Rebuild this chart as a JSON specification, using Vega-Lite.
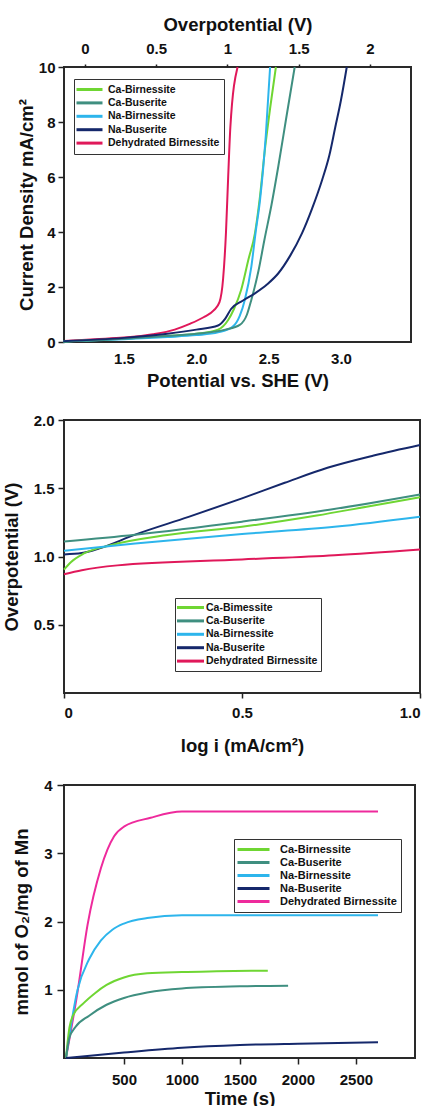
{
  "$schema": "https://vega.github.io/schema/vega-lite/v6.json",
  "padding": {"top": 14, "left": 1, "right": 0, "bottom": 0},
  "spacing": 21,
  "config": {
    "font": "Liberation Sans",
    "view": {"stroke": "#2a2a2a", "strokeWidth": 2},
    "axis": {
      "grid": false, "domain": false,
      "labelFont": "Liberation Sans", "labelFontWeight": "bold", "labelFontSize": 15, "labelColor": "#111",
      "titleFont": "Liberation Sans", "titleFontWeight": "bold", "titleFontSize": 18.5, "titleColor": "#111",
      "tickColor": "#222", "tickWidth": 1.5
    },
    "legend": {
      "title": null, "symbolStrokeWidth": 3, "symbolSize": 100,
      "labelFont": "Liberation Sans", "labelFontWeight": "bold", "labelColor": "#111",
      "strokeColor": "#333", "fillColor": "white"
    }
  },
  "resolve": {"scale": {"color": "independent"}, "legend": {"color": "independent"}},
  "datasets": {
    "lsv": [
      {"s": "Dehydrated Birnessite", "E": 1.08, "j": 0.03},
      {"s": "Dehydrated Birnessite", "E": 1.3, "j": 0.1},
      {"s": "Dehydrated Birnessite", "E": 1.5, "j": 0.16},
      {"s": "Dehydrated Birnessite", "E": 1.7, "j": 0.28},
      {"s": "Dehydrated Birnessite", "E": 1.85, "j": 0.45},
      {"s": "Dehydrated Birnessite", "E": 1.95, "j": 0.65},
      {"s": "Dehydrated Birnessite", "E": 2.05, "j": 0.9},
      {"s": "Dehydrated Birnessite", "E": 2.12, "j": 1.15},
      {"s": "Dehydrated Birnessite", "E": 2.16, "j": 1.45},
      {"s": "Dehydrated Birnessite", "E": 2.185, "j": 2.3},
      {"s": "Dehydrated Birnessite", "E": 2.205, "j": 4.0},
      {"s": "Dehydrated Birnessite", "E": 2.22, "j": 6.0},
      {"s": "Dehydrated Birnessite", "E": 2.235, "j": 7.8},
      {"s": "Dehydrated Birnessite", "E": 2.285, "j": 10},
      {"s": "Ca-Birnessite", "E": 1.08, "j": 0.02},
      {"s": "Ca-Birnessite", "E": 1.5, "j": 0.12},
      {"s": "Ca-Birnessite", "E": 1.8, "j": 0.22},
      {"s": "Ca-Birnessite", "E": 2.0, "j": 0.3},
      {"s": "Ca-Birnessite", "E": 2.15, "j": 0.45},
      {"s": "Ca-Birnessite", "E": 2.22, "j": 0.8},
      {"s": "Ca-Birnessite", "E": 2.26, "j": 1.2},
      {"s": "Ca-Birnessite", "E": 2.31, "j": 1.9},
      {"s": "Ca-Birnessite", "E": 2.36, "j": 3.0},
      {"s": "Ca-Birnessite", "E": 2.405, "j": 3.95},
      {"s": "Ca-Birnessite", "E": 2.44, "j": 5.3},
      {"s": "Ca-Birnessite", "E": 2.474, "j": 7.0},
      {"s": "Ca-Birnessite", "E": 2.51, "j": 8.5},
      {"s": "Ca-Birnessite", "E": 2.55, "j": 10},
      {"s": "Na-Birnessite", "E": 1.08, "j": 0.02},
      {"s": "Na-Birnessite", "E": 1.5, "j": 0.1},
      {"s": "Na-Birnessite", "E": 1.8, "j": 0.18},
      {"s": "Na-Birnessite", "E": 2.0, "j": 0.25},
      {"s": "Na-Birnessite", "E": 2.15, "j": 0.35},
      {"s": "Na-Birnessite", "E": 2.25, "j": 0.55},
      {"s": "Na-Birnessite", "E": 2.3, "j": 0.95},
      {"s": "Na-Birnessite", "E": 2.335, "j": 1.53},
      {"s": "Na-Birnessite", "E": 2.38, "j": 2.73},
      {"s": "Na-Birnessite", "E": 2.41, "j": 4.0},
      {"s": "Na-Birnessite", "E": 2.44, "j": 5.15},
      {"s": "Na-Birnessite", "E": 2.48, "j": 7.5},
      {"s": "Na-Birnessite", "E": 2.51, "j": 10},
      {"s": "Ca-Buserite", "E": 1.08, "j": 0.02},
      {"s": "Ca-Buserite", "E": 1.5, "j": 0.12},
      {"s": "Ca-Buserite", "E": 1.8, "j": 0.22},
      {"s": "Ca-Buserite", "E": 2.0, "j": 0.3},
      {"s": "Ca-Buserite", "E": 2.2, "j": 0.45},
      {"s": "Ca-Buserite", "E": 2.3, "j": 0.62},
      {"s": "Ca-Buserite", "E": 2.35, "j": 1.0},
      {"s": "Ca-Buserite", "E": 2.38, "j": 1.53},
      {"s": "Ca-Buserite", "E": 2.43, "j": 2.6},
      {"s": "Ca-Buserite", "E": 2.47, "j": 3.7},
      {"s": "Ca-Buserite", "E": 2.52, "j": 5.0},
      {"s": "Ca-Buserite", "E": 2.567, "j": 6.4},
      {"s": "Ca-Buserite", "E": 2.62, "j": 8.1},
      {"s": "Ca-Buserite", "E": 2.68, "j": 10},
      {"s": "Na-Buserite", "E": 1.08, "j": 0.03},
      {"s": "Na-Buserite", "E": 1.5, "j": 0.15},
      {"s": "Na-Buserite", "E": 1.8, "j": 0.3},
      {"s": "Na-Buserite", "E": 2.0, "j": 0.45},
      {"s": "Na-Buserite", "E": 2.15, "j": 0.6},
      {"s": "Na-Buserite", "E": 2.2, "j": 0.85},
      {"s": "Na-Buserite", "E": 2.24, "j": 1.2},
      {"s": "Na-Buserite", "E": 2.32, "j": 1.5},
      {"s": "Na-Buserite", "E": 2.405, "j": 1.77},
      {"s": "Na-Buserite", "E": 2.49, "j": 2.1},
      {"s": "Na-Buserite", "E": 2.567, "j": 2.5},
      {"s": "Na-Buserite", "E": 2.65, "j": 3.15},
      {"s": "Na-Buserite", "E": 2.73, "j": 3.95},
      {"s": "Na-Buserite", "E": 2.8, "j": 4.85},
      {"s": "Na-Buserite", "E": 2.87, "j": 5.9},
      {"s": "Na-Buserite", "E": 2.92, "j": 6.8},
      {"s": "Na-Buserite", "E": 2.96, "j": 7.8},
      {"s": "Na-Buserite", "E": 3.0, "j": 8.8},
      {"s": "Na-Buserite", "E": 3.04, "j": 10}
    ],
    "eta": [{"eta": 0}, {"eta": 2}],
    "tafel": [
      {"s": "Na-Buserite", "x": 0, "y": 1.015},
      {"s": "Na-Buserite", "x": 0.05, "y": 1.025},
      {"s": "Na-Buserite", "x": 0.1, "y": 1.06},
      {"s": "Na-Buserite", "x": 0.2, "y": 1.16},
      {"s": "Na-Buserite", "x": 0.35, "y": 1.29},
      {"s": "Na-Buserite", "x": 0.5, "y": 1.426},
      {"s": "Na-Buserite", "x": 0.62, "y": 1.54},
      {"s": "Na-Buserite", "x": 0.74, "y": 1.65},
      {"s": "Na-Buserite", "x": 0.87, "y": 1.74},
      {"s": "Na-Buserite", "x": 1.0, "y": 1.817},
      {"s": "Ca-Buserite", "x": 0, "y": 1.11},
      {"s": "Ca-Buserite", "x": 0.2, "y": 1.16},
      {"s": "Ca-Buserite", "x": 0.5, "y": 1.255},
      {"s": "Ca-Buserite", "x": 0.75, "y": 1.345},
      {"s": "Ca-Buserite", "x": 1.0, "y": 1.455},
      {"s": "Ca-Bimessite", "x": 0, "y": 0.904},
      {"s": "Ca-Bimessite", "x": 0.02, "y": 0.96},
      {"s": "Ca-Bimessite", "x": 0.056, "y": 1.022},
      {"s": "Ca-Bimessite", "x": 0.131, "y": 1.083},
      {"s": "Ca-Bimessite", "x": 0.29, "y": 1.157},
      {"s": "Ca-Bimessite", "x": 0.5, "y": 1.218},
      {"s": "Ca-Bimessite", "x": 0.71, "y": 1.3},
      {"s": "Ca-Bimessite", "x": 0.85, "y": 1.365},
      {"s": "Ca-Bimessite", "x": 1.0, "y": 1.434},
      {"s": "Na-Birnessite", "x": 0, "y": 1.042},
      {"s": "Na-Birnessite", "x": 0.2, "y": 1.096},
      {"s": "Na-Birnessite", "x": 0.5, "y": 1.165},
      {"s": "Na-Birnessite", "x": 0.76, "y": 1.218},
      {"s": "Na-Birnessite", "x": 1.0, "y": 1.292},
      {"s": "Dehydrated Birnessite", "x": 0, "y": 0.87},
      {"s": "Dehydrated Birnessite", "x": 0.05, "y": 0.9},
      {"s": "Dehydrated Birnessite", "x": 0.15, "y": 0.935},
      {"s": "Dehydrated Birnessite", "x": 0.5, "y": 0.978},
      {"s": "Dehydrated Birnessite", "x": 0.76, "y": 1.01},
      {"s": "Dehydrated Birnessite", "x": 1.0, "y": 1.052}
    ],
    "o2": [
      {"s": "Dehydrated Birnessite", "t": 0, "v": 0},
      {"s": "Dehydrated Birnessite", "t": 100, "v": 0.97},
      {"s": "Dehydrated Birnessite", "t": 186, "v": 1.95},
      {"s": "Dehydrated Birnessite", "t": 301, "v": 2.78},
      {"s": "Dehydrated Birnessite", "t": 415, "v": 3.25},
      {"s": "Dehydrated Birnessite", "t": 500, "v": 3.39},
      {"s": "Dehydrated Birnessite", "t": 730, "v": 3.52},
      {"s": "Dehydrated Birnessite", "t": 1000, "v": 3.61},
      {"s": "Dehydrated Birnessite", "t": 2690, "v": 3.61},
      {"s": "Na-Birnessite", "t": 0, "v": 0},
      {"s": "Na-Birnessite", "t": 100, "v": 1.0},
      {"s": "Na-Birnessite", "t": 200, "v": 1.45},
      {"s": "Na-Birnessite", "t": 300, "v": 1.72},
      {"s": "Na-Birnessite", "t": 400, "v": 1.88},
      {"s": "Na-Birnessite", "t": 500, "v": 1.97},
      {"s": "Na-Birnessite", "t": 700, "v": 2.05},
      {"s": "Na-Birnessite", "t": 1000, "v": 2.09},
      {"s": "Na-Birnessite", "t": 2690, "v": 2.09},
      {"s": "Ca-Birnessite", "t": 0, "v": 0},
      {"s": "Ca-Birnessite", "t": 30, "v": 0.45},
      {"s": "Ca-Birnessite", "t": 60, "v": 0.62},
      {"s": "Ca-Birnessite", "t": 150, "v": 0.8},
      {"s": "Ca-Birnessite", "t": 250, "v": 0.95},
      {"s": "Ca-Birnessite", "t": 350, "v": 1.07},
      {"s": "Ca-Birnessite", "t": 500, "v": 1.18},
      {"s": "Ca-Birnessite", "t": 700, "v": 1.24},
      {"s": "Ca-Birnessite", "t": 1000, "v": 1.26},
      {"s": "Ca-Birnessite", "t": 1300, "v": 1.27},
      {"s": "Ca-Birnessite", "t": 1740, "v": 1.28},
      {"s": "Ca-Buserite", "t": 0, "v": 0},
      {"s": "Ca-Buserite", "t": 30, "v": 0.3},
      {"s": "Ca-Buserite", "t": 80, "v": 0.45},
      {"s": "Ca-Buserite", "t": 200, "v": 0.62},
      {"s": "Ca-Buserite", "t": 350, "v": 0.78},
      {"s": "Ca-Buserite", "t": 500, "v": 0.88},
      {"s": "Ca-Buserite", "t": 700, "v": 0.96},
      {"s": "Ca-Buserite", "t": 1000, "v": 1.02},
      {"s": "Ca-Buserite", "t": 1500, "v": 1.05},
      {"s": "Ca-Buserite", "t": 1915, "v": 1.06},
      {"s": "Na-Buserite", "t": 0, "v": 0},
      {"s": "Na-Buserite", "t": 500, "v": 0.08},
      {"s": "Na-Buserite", "t": 1000, "v": 0.15},
      {"s": "Na-Buserite", "t": 1500, "v": 0.19},
      {"s": "Na-Buserite", "t": 2000, "v": 0.21},
      {"s": "Na-Buserite", "t": 2690, "v": 0.23}
    ]
  },
  "vconcat": [
    {
      "width": 347,
      "height": 275,
      "layer": [
        {
          "data": {"name": "lsv"},
          "mark": {"type": "line", "strokeWidth": 2, "interpolate": "monotone"},
          "encoding": {
            "x": {"field": "E", "type": "quantitative",
                  "scale": {"domain": [1.085, 3.484], "nice": false, "zero": false},
                  "axis": {"values": [1.5, 2, 2.5, 3], "format": ".1f", "ticks": false, "labelPadding": 9, "titlePadding": 5, "title": "Potential vs. SHE (V)"}},
            "y": {"field": "j", "type": "quantitative",
                  "scale": {"domain": [0, 10], "nice": false},
                  "axis": {"values": [0, 2, 4, 6, 8, 10], "tickSize": 6, "labelPadding": 3, "titlePadding": 2, "title": "Current Density mA/cm²"}},
            "color": {"field": "s", "type": "nominal",
                      "scale": {"domain": ["Ca-Birnessite", "Ca-Buserite", "Na-Birnessite", "Na-Buserite", "Dehydrated Birnessite"],
                                "range": ["#6fd633", "#3f8f80", "#2db5ec", "#15286b", "#e0185a"]},
                      "legend": {"orient": "none", "legendX": 10, "legendY": 12, "symbolType": "M-2.6,0H2.6", "symbolOffset": 5, "labelFontSize": 10.5, "labelOffset": 12, "padding": 4, "rowPadding": 0.4}}
          }
        },
        {
          "data": {"name": "eta"},
          "mark": {"type": "point", "opacity": 0},
          "encoding": {
            "x": {"field": "eta", "type": "quantitative",
                  "scale": {"domain": [-0.147, 2.288], "nice": false, "zero": false},
                  "axis": {"orient": "top", "values": [0, 0.5, 1, 1.5, 2], "format": "~g", "tickSize": 3, "labelPadding": 8, "titlePadding": 7, "title": "Overpotential (V)"}}
          }
        }
      ],
      "resolve": {"scale": {"x": "independent"}}
    },
    {
      "width": 356,
      "height": 273,
      "data": {"name": "tafel"},
      "mark": {"type": "line", "strokeWidth": 2, "interpolate": "monotone"},
      "encoding": {
        "x": {"field": "x", "type": "quantitative",
              "scale": {"domain": [0, 1], "nice": false},
              "axis": {"values": [0, 0.5, 1], "labelExpr": "datum.value == 0 ? '0' : format(datum.value, '.1f')", "tickSize": 5, "labelPadding": 7, "titlePadding": 16, "title": "log i (mA/cm²)"}},
        "y": {"field": "y", "type": "quantitative",
              "scale": {"domain": [0, 2], "nice": false},
              "axis": {"values": [0.5, 1, 1.5, 2], "format": ".1f", "tickSize": 6, "labelPadding": 4, "titlePadding": 12, "title": "Overpotential (V)"}},
        "color": {"field": "s", "type": "nominal",
                  "scale": {"domain": ["Ca-Bimessite", "Ca-Buserite", "Na-Birnessite", "Na-Buserite", "Dehydrated Birnessite"],
                            "range": ["#6fd633", "#3f8f80", "#2db5ec", "#15286b", "#e0185a"]},
                  "legend": {"orient": "none", "legendX": 111, "legendY": 178, "symbolType": "M-2.7,0H2.7", "symbolOffset": 6, "labelFontSize": 10.5, "labelOffset": 9, "padding": 3, "rowPadding": 0.4}}
      }
    },
    {
      "width": 351,
      "height": 273,
      "data": {"name": "o2"},
      "mark": {"type": "line", "strokeWidth": 2, "interpolate": "monotone"},
      "encoding": {
        "x": {"field": "t", "type": "quantitative",
              "scale": {"domain": [-17, 3009], "nice": false},
              "axis": {"values": [500, 1000, 1500, 2000, 2500], "format": "d", "tickSize": 6, "labelPadding": 8, "titlePadding": 2, "title": "Time (s)"}},
        "y": {"field": "v", "type": "quantitative",
              "scale": {"domain": [0, 4], "nice": false},
              "axis": {"values": [1, 2, 3, 4], "format": "d", "tickSize": 7, "labelPadding": 5, "titlePadding": 12, "title": "mmol of O₂/mg of Mn"}},
        "color": {"field": "s", "type": "nominal",
                  "scale": {"domain": ["Ca-Birnessite", "Ca-Buserite", "Na-Birnessite", "Na-Buserite", "Dehydrated Birnessite"],
                            "range": ["#6fd633", "#3f8f80", "#2db5ec", "#15286b", "#ee2a9c"]},
                  "legend": {"orient": "none", "legendX": 170, "legendY": 54, "symbolType": "M-3.2,0H3.2", "symbolOffset": 9, "labelFontSize": 11, "labelOffset": 20, "padding": 4, "rowPadding": 0}}
      }
    }
  ]
}
